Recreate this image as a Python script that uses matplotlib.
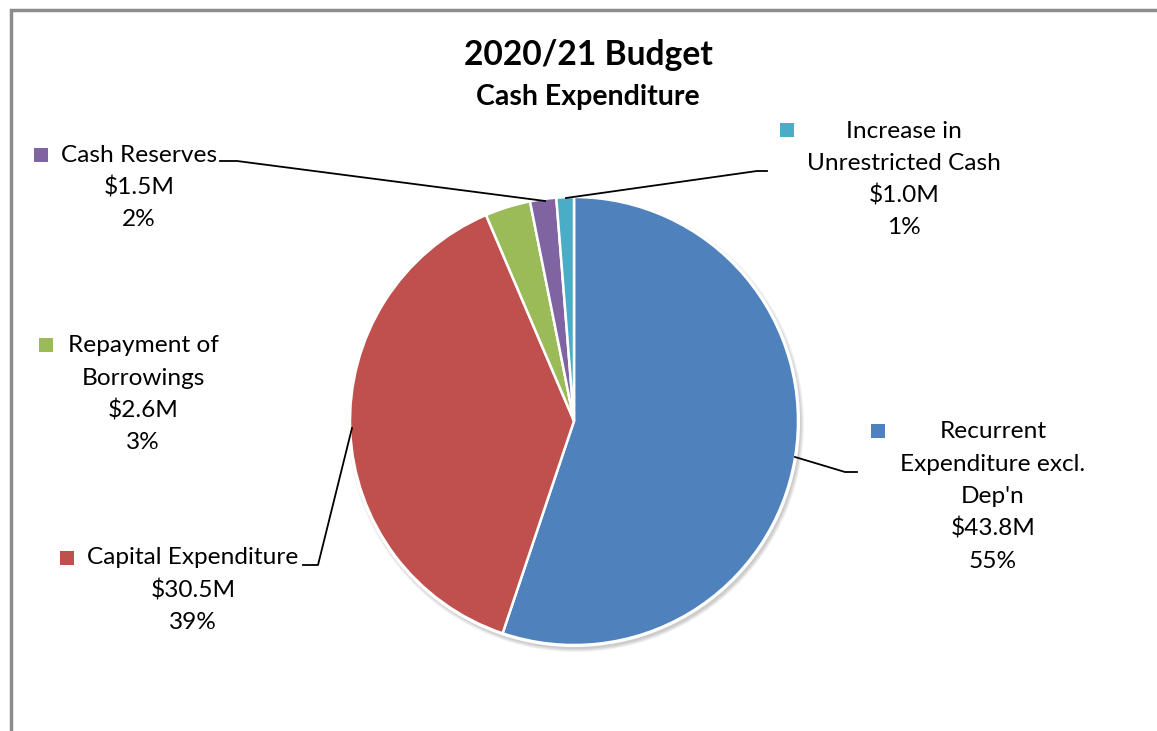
import numpy as np
import matplotlib.pyplot as plt
from matplotlib.patches import Circle

# budget figures ($M), in drawing order clockwise from the top
categories = ["Recurrent\nExpenditure excl.\nDep'n", "Capital Expenditure",
              "Repayment of\nBorrowings", "Cash Reserves",
              "Increase in\nUnrestricted Cash"]
amounts = [43.8, 30.5, 2.6, 1.5, 1.0]
pct_labels = ["55%", "39%", "3%", "2%", "1%"]
colors = ["#4F81BD", "#C0504D", "#9BBB59", "#8064A2", "#4BACC6"]

W, H = 1157, 731
plt.rcParams['font.family'] = ['Lato', 'DejaVu Sans']

fig = plt.figure(figsize=(W / 100, H / 100), dpi=100)
ax = fig.add_axes([0, 0, 1, 1])

# pixel coords (y down) -> axes data (y up)
def py(y):
    return H - y

cx, cy, r = 574, py(421), 224

# soft shadow under the pie
for i, a in enumerate([0.05, 0.05, 0.05, 0.06]):
    ax.add_patch(Circle((cx + 2, cy - 3), r + 4 - i, color="black", alpha=a,
                        lw=0, zorder=0))

ax.pie(amounts, colors=colors, startangle=90, counterclock=False,
       center=(cx, cy), radius=r,
       wedgeprops=dict(edgecolor="white", linewidth=1.8))
ax.add_patch(Circle((cx, cy), r + 1, fill=False, edgecolor="white", lw=1.5,
                    zorder=3))

ax.set_xlim(0, W)
ax.set_ylim(0, H)
ax.set_aspect("equal")
ax.axis("off")

# chart border (top and left visible)
ax.plot([10.5, 10.5, W], [0, py(9.5), py(9.5)], color="#8c8c8c", lw=2.5,
        solid_capstyle="butt", solid_joinstyle="miter")

# titles
ax.text(588, py(55), "2020/21 Budget", ha="center", va="center",
        fontsize=24.2, fontweight="bold")
ax.text(588, py(97), "Cash Expenditure", ha="center", va="center",
        fontsize=20.5, fontweight="bold")

# label blocks: text centre x, first line y, key square position
label_pos = [(993, 432, 878, 431), (193, 558, 67, 558), (143, 346, 46, 345),
             (139, 155, 41, 155), (904, 131, 787, 130)]
line_h = 32.3
for i, (tx, ty, kx, ky) in enumerate(label_pos):
    text = f"{categories[i]}\n${amounts[i]:.1f}M\n{pct_labels[i]}"
    for j, line in enumerate(text.split("\n")):
        ax.text(tx, py(ty + j * line_h), line, ha="center", va="center",
                fontsize=17.6, color="black")
    ax.scatter([kx], [py(ky)], marker="s", s=95, color=colors[i], lw=0)

# leader lines
leaders = [
    [(795, 457), (845, 472), (857, 472)],
    [(352, 428), (318, 565), (303, 565)],
    None,
    [(545, 201), (237, 161), (220, 161)],
    [(566, 198), (757, 171), (767, 171)],
]
for pts in leaders:
    if pts is None:
        continue
    xs = [p[0] for p in pts]
    ys = [py(p[1]) for p in pts]
    ax.plot(xs, ys, color="black", lw=1.3, zorder=4)

fig.savefig("out.png", dpi=100)
